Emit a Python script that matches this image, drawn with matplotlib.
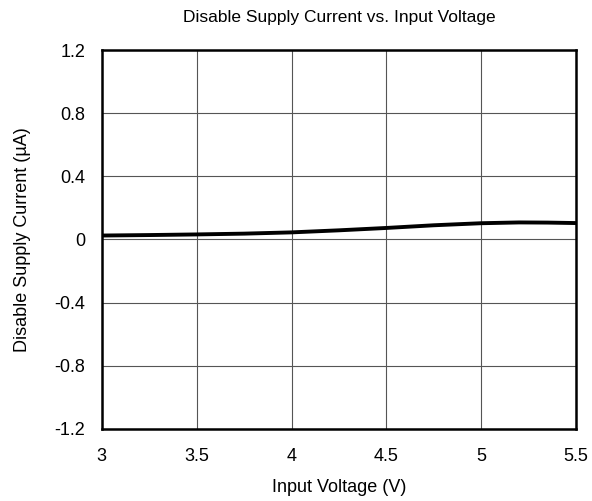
import matplotlib
matplotlib.use("Agg")
import matplotlib.pyplot as plt

plt.rcParams['font.family'] = ['Liberation Sans', 'DejaVu Sans']

# data
vin = [3.0, 3.25, 3.5, 3.75, 4.0, 4.25, 4.5, 4.75, 5.0, 5.2, 5.35, 5.5]
i_dis = [0.025, 0.028, 0.032, 0.037, 0.045, 0.058, 0.073, 0.09, 0.103, 0.108, 0.107, 0.104]

xticks = [3, 3.5, 4, 4.5, 5, 5.5]
xlabels = ['3', '3.5', '4', '4.5', '5', '5.5']
yticks = [-1.2, -0.8, -0.4, 0, 0.4, 0.8, 1.2]
ylabels = ['-1.2', '-0.8', '-0.4', '0', '0.4', '0.8', '1.2']

fig = plt.figure(figsize=(5.92, 5.01), dpi=100)
ax = fig.add_axes([0.172, 0.144, 0.801, 0.756])

ax.plot(vin, i_dis, color='black', lw=2.8, solid_capstyle='butt')

ax.set_xlim(3, 5.5)
ax.set_ylim(-1.2, 1.2)
ax.set_xticks(xticks, xlabels)
ax.set_yticks(yticks, ylabels)
ax.tick_params(length=0, labelsize=13)
ax.tick_params(axis='x', pad=14)
ax.tick_params(axis='y', pad=12)
ax.grid(True, color='#555555', lw=0.8)
for s in ax.spines.values():
    s.set_linewidth(1.8)

ax.set_xlabel('Input Voltage (V)', fontsize=13, labelpad=10)
ax.set_ylabel('Disable Supply Current (\u00b5A)', fontsize=13, labelpad=17)
ax.set_title('Disable Supply Current vs. Input Voltage', fontsize=12.5, pad=20)

fig.savefig('out.png', dpi=100)
